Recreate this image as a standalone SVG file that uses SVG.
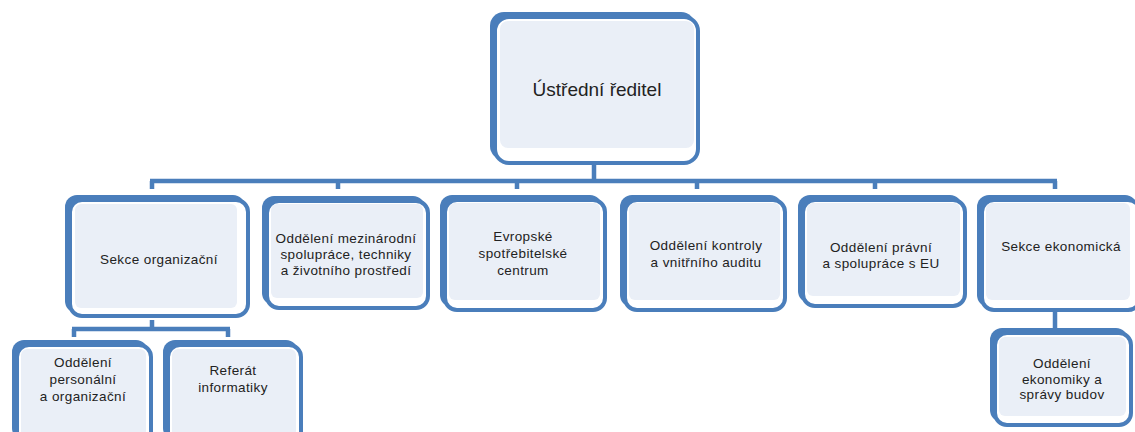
<svg xmlns="http://www.w3.org/2000/svg" width="1135" height="432" viewBox="0 0 1135 432">
<style>
.bk{fill:#4a7ebb}
.fr{fill:#ffffff;stroke:#4a7ebb;stroke-width:4}
.in{fill:#eaeff7}
.ln{stroke:#4a7ebb;stroke-width:4.5;fill:none;stroke-linecap:butt}
text{font-family:"Liberation Sans",Arial,sans-serif;font-size:13.5px;fill:#222;text-anchor:middle;letter-spacing:0.4px}
.big{font-size:19px;letter-spacing:0}
</style>
<rect width="1135" height="432" fill="#ffffff"/>
<g id="connectors">
<path class="ln" d="M594 162V181M150 181H1057M152 181V189M338 181V189M517 181V189M697 181V189M875 181V189M1055 181V189"/>
<path class="ln" d="M152 320V329M72 329H230M74 329V337M228 329V337"/>
<path class="ln" d="M1055 310V330"/>
</g>
<g id="n-top">
<rect class="bk" x="490" y="12" width="205" height="148" rx="14"/>
<rect class="fr" x="495" y="17" width="203" height="146" rx="14"/>
<rect class="in" x="500" y="21" width="194" height="127" rx="8"/>
<text class="big" x="597" y="96">Ústřední ředitel</text>
</g>
<g id="n-sekce-org">
<rect class="bk" x="65" y="195" width="180" height="118" rx="12"/>
<rect class="fr" x="70" y="200" width="178" height="116" rx="12"/>
<rect class="in" x="75" y="204" width="162" height="104" rx="6"/>
<text x="159" y="264">Sekce organizační</text>
</g>
<g id="n-mezinarodni">
<rect class="bk" x="262" y="196" width="163" height="109" rx="12"/>
<rect class="fr" x="267" y="201" width="161" height="107" rx="12"/>
<rect class="in" x="271" y="204" width="152" height="94" rx="6"/>
<text x="346" y="243">Oddělení mezinárodní</text>
<text x="346" y="259">spolupráce, techniky</text>
<text x="346" y="275">a životního prostředí</text>
</g>
<g id="n-evropske">
<rect class="bk" x="440" y="195" width="162" height="112" rx="12"/>
<rect class="fr" x="445" y="200" width="160" height="110" rx="12"/>
<rect class="in" x="449" y="203" width="151" height="97" rx="6"/>
<text x="523" y="241">Evropské</text>
<text x="523" y="258">spotřebitelské</text>
<text x="523" y="275">centrum</text>
</g>
<g id="n-kontroly">
<rect class="bk" x="620" y="195" width="162" height="112" rx="12"/>
<rect class="fr" x="625" y="200" width="160" height="110" rx="12"/>
<rect class="in" x="629" y="203" width="151" height="97" rx="6"/>
<text x="706" y="250">Oddělení kontroly</text>
<text x="706" y="267">a vnitřního auditu</text>
</g>
<g id="n-pravni">
<rect class="bk" x="798" y="195" width="164" height="108" rx="12"/>
<rect class="fr" x="803" y="200" width="162" height="106" rx="12"/>
<rect class="in" x="807" y="203" width="153" height="93" rx="6"/>
<text x="881" y="252">Oddělení právní</text>
<text x="881" y="268">a spolupráce s EU</text>
</g>
<g id="n-sekce-eko">
<rect class="bk" x="977" y="195" width="160" height="112" rx="12"/>
<rect class="fr" x="982" y="200" width="158" height="110" rx="12"/>
<rect class="in" x="986" y="203" width="144" height="97" rx="6"/>
<text x="1061" y="251">Sekce ekonomická</text>
</g>
<g id="n-personalni">
<rect class="bk" x="12" y="340" width="136" height="100" rx="12"/>
<rect class="fr" x="17" y="345" width="134" height="100" rx="12"/>
<rect class="in" x="21" y="349" width="125" height="90" rx="6"/>
<text x="83" y="367">Oddělení</text>
<text x="83" y="384">personální</text>
<text x="83" y="401">a organizační</text>
</g>
<g id="n-referat">
<rect class="bk" x="163" y="340" width="135" height="100" rx="12"/>
<rect class="fr" x="168" y="345" width="133" height="100" rx="12"/>
<rect class="in" x="172" y="349" width="124" height="90" rx="6"/>
<text x="233" y="375">Referát</text>
<text x="233" y="392">informatiky</text>
</g>
<g id="n-ekonomiky">
<rect class="bk" x="990" y="328" width="138" height="94" rx="12"/>
<rect class="fr" x="995" y="333" width="136" height="92" rx="12"/>
<rect class="in" x="999" y="337" width="127" height="79" rx="6"/>
<text x="1062" y="368">Oddělení</text>
<text x="1062" y="384">ekonomiky a</text>
<text x="1062" y="399">správy budov</text>
</g>
</svg>
